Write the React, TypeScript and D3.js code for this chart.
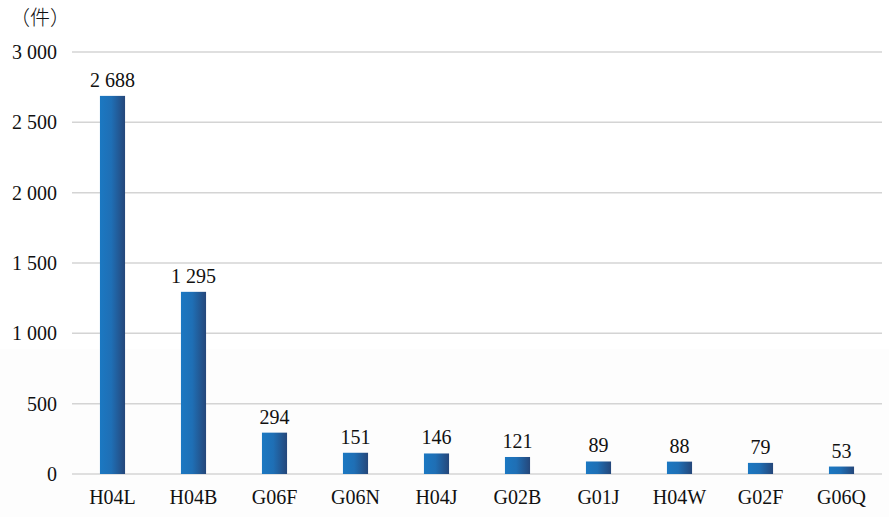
import React from "react";
import * as d3 from "d3";

const categories = ["H04L", "H04B", "G06F", "G06N", "H04J", "G02B", "G01J", "H04W", "G02F", "G06Q"];
const values = [2688, 1295, 294, 151, 146, 121, 89, 88, 79, 53];
const yTicks = [0, 500, 1000, 1500, 2000, 2500, 3000];
const unitLabel = "（件）";

const W = 889;
const H = 517;
const margin = { left: 72, right: 7, top: 52, bottom: 43 };

const fmt = (v: number) => {
  const s = String(v);
  return s.length > 3 ? s.slice(0, s.length - 3) + " " + s.slice(-3) : s;
};

export default function App() {
  const x = d3
    .scaleBand<string>()
    .domain(categories)
    .range([margin.left, W - margin.right])
    .paddingInner(0.69)
    .paddingOuter(0.345);
  const y = d3.scaleLinear().domain([0, 3000]).range([H - margin.bottom, margin.top]);
  const ts = { fontFamily: "'Liberation Serif', 'Times New Roman', serif", fontSize: "20px" };

  return (
    <svg width={W} height={H} style={{ position: "absolute", left: 0, top: 0 }}>
      <defs>
        <linearGradient id="barGrad" x1="0" x2="1" y1="0" y2="0">
          <stop offset="0%" stopColor="#1b78c2" />
          <stop offset="45%" stopColor="#1f6fb5" />
          <stop offset="100%" stopColor="#25477a" />
        </linearGradient>
      </defs>
      <rect x={0} y={0} width={W} height={H} fill="#ffffff" />
      <rect x={0} y={349} width={W} height={H - 349} fill="#fdfdfd" />
      {yTicks.map((t) => (
        <g key={t}>
          <line
            x1={margin.left}
            x2={W - margin.right}
            y1={y(t)}
            y2={y(t)}
            stroke="#d4d4d4"
            strokeWidth={1.5}
          />
          <text x={57} y={y(t)} dy="0.35em" textAnchor="end" style={ts} fill="#111">
            {fmt(t)}
          </text>
        </g>
      ))}
      <text
        x={10}
        y={25}
        style={{ fontFamily: "'Noto Sans CJK SC', sans-serif", fontSize: "20px", fontWeight: 300 }}
        fill="#111"
      >
        {unitLabel}
      </text>
      {categories.map((c, i) => {
        const bx = x(c)!;
        const bw = x.bandwidth();
        const top = y(values[i]);
        return (
          <g key={c}>
            <rect x={bx} y={top} width={bw} height={y(0) - top} fill="url(#barGrad)" />
            <text x={bx + bw / 2} y={top - 9} textAnchor="middle" style={ts} fill="#111">
              {fmt(values[i])}
            </text>
            <text x={bx + bw / 2} y={H - 13} textAnchor="middle" style={ts} fill="#111">
              {c}
            </text>
          </g>
        );
      })}
    </svg>
  );
}
